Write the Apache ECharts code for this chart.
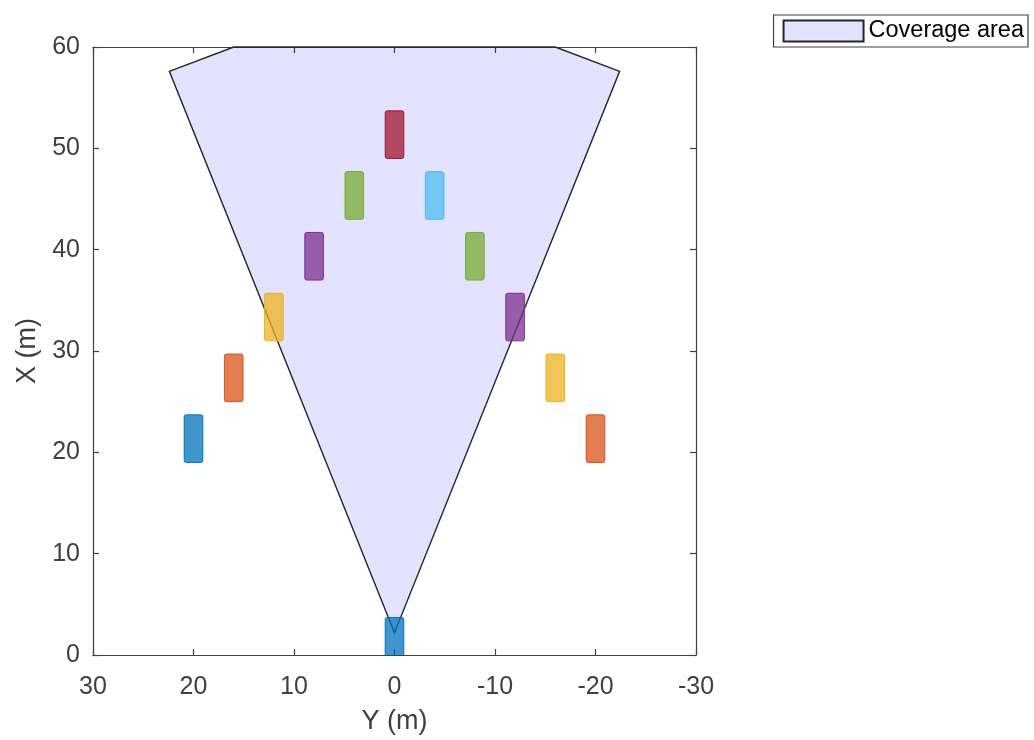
<!DOCTYPE html>
<html>
<head>
<meta charset="utf-8">
<script src="https://cdn.jsdelivr.net/npm/echarts@6/dist/echarts.min.js"></script>
<style>
  html, body { margin: 0; padding: 0; background: #fff; }
  #chart { width: 1034px; height: 740px; }
</style>
</head>
<body>
<div id="chart"></div>
<script>
// 覆盖区域多边形顶点 (Y, X)
const coverageY = [0, 22.4, 16, -16, -22.4];
const coverageX = [2.2, 57.6, 60, 60, 57.6];

// 车辆中心 Y 和车尾 X (m)
const carY    = [0, 20, 16, 12, 8, 4, 0, -4, -8, -12, -16, -20];
const carRear = [-1, 19, 25, 31, 37, 43, 49, 43, 37, 31, 25, 19];
const carLength = 4.7;
const carWidth = 1.85;

const carColors = ['#0072BD', '#0072BD', '#D95319', '#EDB120', '#7E2F8E', '#77AC30',
                   '#A2142F', '#4DBEEE', '#77AC30', '#7E2F8E', '#EDB120', '#D95319'];

const axisColor = '#404040';
const font = 'Liberation Sans, Arial, Helvetica, sans-serif';

const chart = echarts.init(document.getElementById('chart'));

const carData = carY.map((y, i) => [y, carRear[i], i]);

const frameAxis = (extra) => Object.assign({
    type: 'value',
    axisLine: { show: true, onZero: false, lineStyle: { color: axisColor, width: 1.2 } },
    axisTick: { show: true, inside: true, length: 6, lineStyle: { color: axisColor, width: 1.2 } },
    splitLine: { show: false }
}, extra);

chart.setOption({
    animation: false,
    grid: { left: 93, right: 338, top: 47, bottom: 85 },
    legend: {
        right: 6, top: 15,
        data: [{ name: 'Coverage area', icon: 'rect' }],
        itemWidth: 80, itemHeight: 21,
        padding: [4, 4, 4, 9],
        borderColor: axisColor, borderWidth: 1.2, borderRadius: 0,
        textStyle: { fontFamily: font, fontSize: 23.5, color: '#000' }
    },
    xAxis: [
        frameAxis({
            min: -30, max: 30, interval: 10, inverse: true,
            name: 'Y (m)', nameLocation: 'middle', nameGap: 53,
            nameTextStyle: { fontFamily: font, fontSize: 27, color: axisColor },
            axisLabel: { fontFamily: font, fontSize: 25, color: axisColor, margin: 20 }
        }),
        frameAxis({
            min: -30, max: 30, interval: 10, inverse: true, position: 'top',
            axisLabel: { show: false }
        })
    ],
    yAxis: [
        frameAxis({
            min: 0, max: 60, interval: 10,
            name: 'X (m)', nameLocation: 'middle', nameGap: 50,
            nameTextStyle: { fontFamily: font, fontSize: 27, color: axisColor },
            axisLabel: { fontFamily: font, fontSize: 25, color: axisColor, margin: 13 }
        }),
        frameAxis({
            min: 0, max: 60, interval: 10, position: 'right',
            axisLabel: { show: false }
        })
    ],
    series: [
        {
            name: 'Coverage area',
            type: 'custom',
            itemStyle: { color: 'rgba(0,0,255,0.11)', borderColor: '#262626', borderWidth: 1.5 },
            data: [[0, 0]],
            renderItem: (params, api) => ({
                type: 'polygon',
                shape: { points: coverageY.map((y, i) => api.coord([y, coverageX[i]])) },
                style: { fill: 'rgba(0,0,255,0.11)', stroke: '#262626', lineWidth: 1.4 }
            })
        },
        {
            name: 'cars',
            type: 'custom',
            clip: true,
            data: carData,
            renderItem: (params, api) => {
                const y = api.value(0), rear = api.value(1), idx = api.value(2);
                const p1 = api.coord([y + carWidth / 2, rear + carLength]);
                const p2 = api.coord([y - carWidth / 2, rear]);
                const c = carColors[idx];
                return {
                    type: 'rect',
                    shape: { x: p1[0], y: p1[1], width: p2[0] - p1[0], height: p2[1] - p1[1], r: 2 },
                    style: { fill: echarts.color.modifyAlpha(c, 0.75), stroke: c, lineWidth: 1 }
                };
            }
        }
    ]
});
</script>
</body>
</html>
